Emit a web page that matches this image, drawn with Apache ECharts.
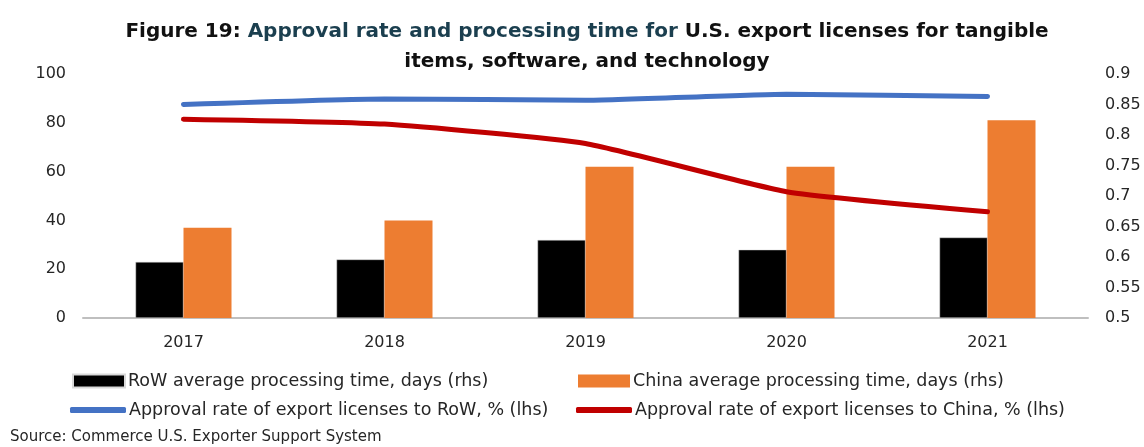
<!DOCTYPE html>
<html>
<head>
<meta charset="utf-8">
<script src="https://cdn.jsdelivr.net/npm/echarts@6/dist/echarts.min.js"></script>
<style>
  html, body { margin: 0; padding: 0; background: #fff; }
  #chart { width: 1144px; height: 447px; }
</style>
</head>
<body>
<div id="chart"></div>
<script>
// data
const years = ['2017', '2018', '2019', '2020', '2021']
const rowDays = [23, 24, 32, 28, 33]
const chinaDays = [37, 40, 62, 62, 81]
const rowApproval = [0.85, 0.859, 0.857, 0.867, 0.863]
const chinaApproval = [0.826, 0.818, 0.786, 0.707, 0.674]
const leftTicks = [0, 20, 40, 60, 80, 100]
const rightTicks = [0.5, 0.55, 0.6, 0.65, 0.7, 0.75, 0.8, 0.85, 0.9]

const names = [
  'RoW average processing time, days (rhs)',
  'China average processing time, days (rhs)',
  'Approval rate of export licenses to RoW, % (lhs)',
  'Approval rate of export licenses to China, % (lhs)',
]

const font = 'DejaVu Sans'
const txt = '#262626'

const chartDom = document.getElementById('chart')
const myChart = echarts.init(chartDom)

const legendBase = {
  orient: 'horizontal',
  itemGap: 0,
  padding: 0,
  textStyle: { fontFamily: font, fontSize: 17.5, color: txt, padding: [0, 0, 0, -2] },
}

const option = {
  animation: false,
  title: {
    left: 582,
    top: 12,
    textAlign: 'center',
    text: '{a|Figure 19: }{b|Approval rate and processing time for}{a| U.S. export licenses for tangible}\n{a|items, software, and technology}',
    textStyle: {
      rich: {
        a: { fontFamily: font, fontWeight: 'bold', fontSize: 20, color: '#111', lineHeight: 30 },
        b: { fontFamily: font, fontWeight: 'bold', fontSize: 20, color: '#1b3f4f', lineHeight: 30 },
      },
    },
  },
  graphic: [
    {
      type: 'text',
      left: 10,
      top: 430,
      style: { text: 'Source: Commerce U.S. Exporter Support System', font: '15px "DejaVu Sans"', fill: txt },
    },
  ],
  legend: [
    Object.assign({}, legendBase, {
      left: 72, top: 372, data: [names[0]], icon: 'rect', itemWidth: 52, itemHeight: 13,
    }),
    Object.assign({}, legendBase, {
      left: 578, top: 372, data: [names[1]], icon: 'rect', itemWidth: 52, itemHeight: 13,
    }),
    Object.assign({}, legendBase, {
      left: 70, top: 401, data: [names[2]], icon: 'roundRect', itemWidth: 56, itemHeight: 6,
    }),
    Object.assign({}, legendBase, {
      left: 576, top: 401, data: [names[3]], icon: 'roundRect', itemWidth: 56, itemHeight: 6,
    }),
  ],
  grid: {
    left: 83,
    right: 56,
    top: 74,
    bottom: 129,
  },
  xAxis: {
    type: 'category',
    data: years,
    axisLine: { lineStyle: { color: '#bfbfbf', width: 2 } },
    axisTick: { show: false },
    axisLabel: { fontFamily: font, fontSize: 16, color: txt, margin: 17 },
  },
  yAxis: [
    {
      type: 'value',
      min: leftTicks[0],
      max: leftTicks[leftTicks.length - 1],
      interval: leftTicks[1] - leftTicks[0],
      splitLine: { show: false },
      axisLine: { show: false },
      axisTick: { show: false },
      axisLabel: { fontFamily: font, fontSize: 16, color: txt, margin: 17 },
    },
    {
      type: 'value',
      min: rightTicks[0],
      max: rightTicks[rightTicks.length - 1],
      interval: 0.05,
      splitLine: { show: false },
      axisLine: { show: false },
      axisTick: { show: false },
      axisLabel: {
        fontFamily: font, fontSize: 16, color: txt, margin: 17,
        formatter: (v) => String(+v.toFixed(2)),
      },
    },
  ],
  series: [
    {
      name: names[0],
      type: 'bar',
      yAxisIndex: 0,
      data: rowDays,
      barWidth: 48,
      barGap: '0%',
      itemStyle: { color: '#000000', borderColor: '#d9d9d9', borderWidth: 0.5 },
    },
    {
      name: names[1],
      type: 'bar',
      yAxisIndex: 0,
      data: chinaDays,
      barWidth: 48,
      barGap: '0%',
      itemStyle: { color: '#ed7d31' },
    },
    {
      name: names[2],
      type: 'line',
      yAxisIndex: 1,
      data: rowApproval,
      smooth: 0.15,
      symbol: 'none',
      lineStyle: { color: '#4472c4', width: 5, cap: 'round' },
      itemStyle: { color: '#4472c4' },
    },
    {
      name: names[3],
      type: 'line',
      yAxisIndex: 1,
      data: chinaApproval,
      smooth: 0.15,
      symbol: 'none',
      lineStyle: { color: '#c00000', width: 5, cap: 'round' },
      itemStyle: { color: '#c00000' },
    },
  ],
}

window.addEventListener('resize', () => {
  myChart.resize()
})
option && myChart.setOption(option)
</script>
</body>
</html>
